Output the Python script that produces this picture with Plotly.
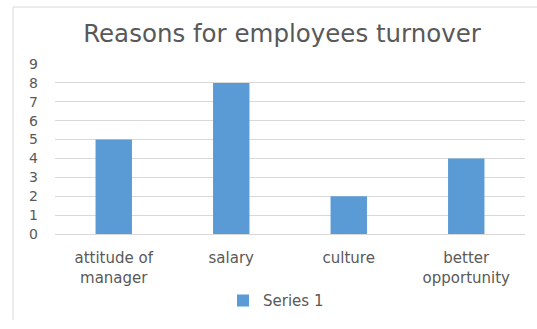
import plotly.graph_objects as go

categories = ["attitude of<br>manager", "salary", "culture", "better<br>opportunity"]
values = [5, 8, 2, 4]
series_name = "Series 1"

W, H = 537, 329
L, R, T, B = 55, 12, 64, 89
pw, ph = W - L - R, H - T - B

fig = go.Figure()
fig.add_trace(go.Bar(x=categories, y=values, name=series_name,
                     marker=dict(color="#5B9BD5", line=dict(width=0)),
                     width=0.31, showlegend=True))

font = "DejaVu Sans, sans-serif"
fig.update_layout(
    width=W, height=H,
    margin=dict(l=L, r=R, t=T, b=B),
    paper_bgcolor="white", plot_bgcolor="white",
    font=dict(family=font, color="#595959", size=14),
    title=dict(text="Reasons for employees turnover", x=282 / W, xanchor="center",
               y=1 - 33 / H, yanchor="middle",
               font=dict(size=24.5, color="#595959", family=font)),
    xaxis=dict(showgrid=False, showline=True, linecolor="#D9D9D9", linewidth=1,
               ticks="", ticklabelstandoff=10,
               tickfont=dict(size=15, color="#595959")),
    yaxis=dict(range=[0, 9], dtick=1, showgrid=True, gridcolor="#D9D9D9", gridwidth=1,
               zeroline=False, showline=False, ticks="",
               ticklabelstandoff=16,
               tickfont=dict(size=14, color="#595959")),
    showlegend=True,
    legend=dict(orientation="h", x=(276 - L) / pw, xanchor="center",
                y=-(309 - (T + ph)) / ph, yanchor="middle",
                font=dict(size=15, color="#595959"),
                itemwidth=30),
    bargap=0.69,
)
# chart-area border (left and top edges visible in the frame)
fig.add_shape(type="line", xref="paper", yref="paper",
              x0=(13 - L) / pw, x1=(13 - L) / pw,
              y0=-(H - T - ph) / ph, y1=(T + ph - 5) / ph,
              line=dict(color="#D9D9D9", width=1))
fig.add_shape(type="line", xref="paper", yref="paper",
              x0=(13 - L) / pw, x1=(W - L) / pw,
              y0=(T + ph - 5) / ph, y1=(T + ph - 5) / ph,
              line=dict(color="#D9D9D9", width=1))
fig.write_html("out.html")
